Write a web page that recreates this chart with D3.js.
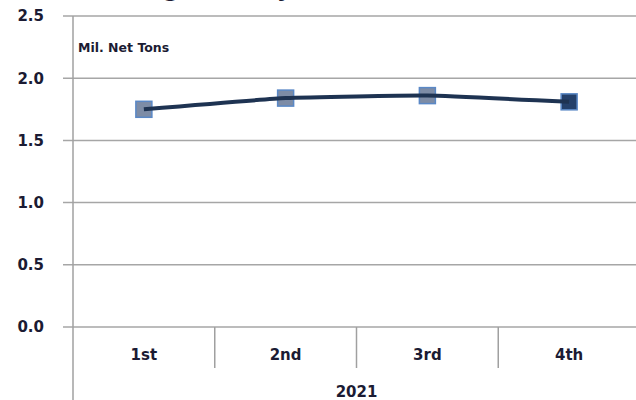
<!DOCTYPE html>
<html>
<head>
<meta charset="utf-8">
<script src="https://cdn.jsdelivr.net/npm/d3@7"></script>
<style>
  html, body { margin: 0; padding: 0; background: #fff; }
  svg { display: block; }
  text { font-family: "DejaVu Sans", Verdana, sans-serif; font-weight: bold; fill: #1b1b33; }
</style>
</head>
<body>
<svg id="chart" width="636" height="400"></svg>
<script>
const title = "Average Weekly Production";
const unitLabel = "Mil. Net Tons";
const quarters = ["1st", "2nd", "3rd", "4th"];
const yearLabel = "2021";
const values = [1.75, 1.84, 1.86, 1.81];
const yTicks = [0.0, 0.5, 1.0, 1.5, 2.0, 2.5];

(function () {
const svg = d3.select("#chart");
const W = 636, H = 400;
const mLeft = 73, mRight = 640, mTop = 16, mBottom = 327;

const x = d3.scaleBand().domain(quarters).range([mLeft, mRight]).padding(0);
const y = d3.scaleLinear().domain([0, 2.5]).range([mBottom, mTop]);

// partially visible title (cut off at top, as in the reference)
svg.append("text")
  .attr("x", 92).attr("y", -3)
  .attr("font-size", 22)
  .text(title);

// gridlines
svg.append("g").selectAll("line").data(yTicks).join("line")
  .attr("x1", mLeft - 10).attr("x2", W)
  .attr("y1", d => y(d)).attr("y2", d => y(d))
  .attr("stroke", "#a6a6a6").attr("stroke-width", 1.5);

// y axis line
svg.append("line")
  .attr("x1", mLeft).attr("x2", mLeft)
  .attr("y1", mTop).attr("y2", H)
  .attr("stroke", "#a0a0a0").attr("stroke-width", 1.5);

// y tick labels
svg.append("g").selectAll("text").data(yTicks).join("text")
  .attr("x", 44).attr("y", d => y(d))
  .attr("dy", "0.36em")
  .attr("text-anchor", "end")
  .attr("font-size", 15)
  .text(d => d3.format(".1f")(d));

// category dividers
svg.append("g").selectAll("line").data(quarters.slice(1)).join("line")
  .attr("x1", d => x(d)).attr("x2", d => x(d))
  .attr("y1", mBottom).attr("y2", 368)
  .attr("stroke", "#a0a0a0").attr("stroke-width", 1.5);

// category labels
svg.append("g").selectAll("text").data(quarters).join("text")
  .attr("x", d => x(d) + x.bandwidth() / 2).attr("y", 355)
  .attr("dy", "0.36em")
  .attr("text-anchor", "middle")
  .attr("font-size", 15)
  .text(d => d);

// year label
svg.append("text")
  .attr("x", (mLeft + mRight) / 2).attr("y", 392)
  .attr("dy", "0.36em")
  .attr("text-anchor", "middle")
  .attr("font-size", 15)
  .text(yearLabel);

// unit label
svg.append("text")
  .attr("x", 78).attr("y", 47)
  .attr("dy", "0.36em")
  .attr("font-size", 12.5)
  .text(unitLabel);

const pts = quarters.map((q, i) => ({ q, v: values[i] }));
const cx = d => x(d.q) + x.bandwidth() / 2;

// markers
const ms = 16;
svg.append("g").selectAll("rect").data(pts).join("rect")
  .attr("x", d => cx(d) - ms / 2).attr("y", d => y(d.v) - ms / 2)
  .attr("width", ms).attr("height", ms)
  .attr("fill", (d, i) => i === pts.length - 1 ? "#24406a" : "#7d8ca6")
  .attr("stroke", "#5a88c6").attr("stroke-width", 1.5);

// line
svg.append("path").datum(pts)
  .attr("d", d3.line().x(cx).y(d => y(d.v)).curve(d3.curveCardinal.tension(0.6)))
  .attr("fill", "none")
  .attr("stroke", "#1e3352").attr("stroke-width", 4)
  .attr("stroke-linecap", "butt");
})();
</script>
</body>
</html>
